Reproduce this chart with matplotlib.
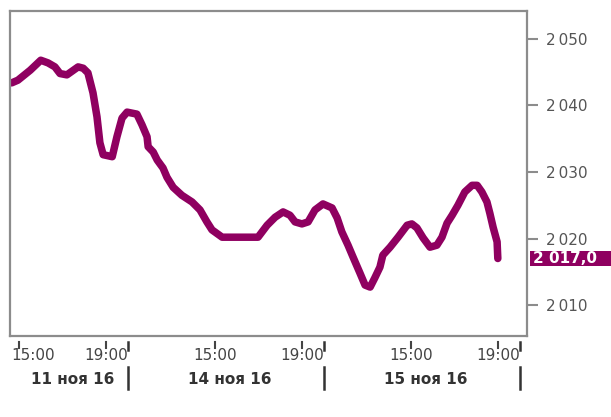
import matplotlib
matplotlib.use("Agg")
import matplotlib.pyplot as plt
import matplotlib.transforms as mtransforms
from matplotlib.patches import Rectangle
import pandas as pd

# Дни торгов и данные (время, цена)
days = ["2016-11-11", "2016-11-14", "2016-11-15"]
day_labels = ["11 ноя 16", "14 ноя 16", "15 ноя 16"]

times = [
    "2016-11-11 14:39", "2016-11-11 14:56", "2016-11-11 15:30", "2016-11-11 15:59",
    "2016-11-11 16:19", "2016-11-11 16:38", "2016-11-11 16:52", "2016-11-11 17:11",
    "2016-11-11 17:42", "2016-11-11 17:56", "2016-11-11 18:09", "2016-11-11 18:23",
    "2016-11-11 18:34", "2016-11-11 18:42", "2016-11-11 18:51", "2016-11-11 19:16",
    "2016-11-11 19:29", "2016-11-11 19:43", "2016-11-11 19:57",
    "2016-11-14 11:24", "2016-11-14 11:38", "2016-11-14 11:52", "2016-11-14 11:55",
    "2016-11-14 12:09", "2016-11-14 12:20", "2016-11-14 12:36", "2016-11-14 12:47",
    "2016-11-14 13:04", "2016-11-14 13:28", "2016-11-14 13:56", "2016-11-14 14:18",
    "2016-11-14 14:37", "2016-11-14 14:51", "2016-11-14 15:19", "2016-11-14 16:58",
    "2016-11-14 17:23", "2016-11-14 17:45", "2016-11-14 18:07", "2016-11-14 18:26",
    "2016-11-14 18:40", "2016-11-14 18:59", "2016-11-14 19:16", "2016-11-14 19:35",
    "2016-11-14 19:57",
    "2016-11-15 11:22", "2016-11-15 11:36", "2016-11-15 11:49", "2016-11-15 12:06",
    "2016-11-15 12:20", "2016-11-15 12:39", "2016-11-15 12:53", "2016-11-15 13:07",
    "2016-11-15 13:20", "2016-11-15 13:34", "2016-11-15 13:42", "2016-11-15 14:02",
    "2016-11-15 14:24", "2016-11-15 14:49", "2016-11-15 15:02", "2016-11-15 15:16",
    "2016-11-15 15:33", "2016-11-15 15:52", "2016-11-15 16:11", "2016-11-15 16:25",
    "2016-11-15 16:39", "2016-11-15 16:53", "2016-11-15 17:09", "2016-11-15 17:28",
    "2016-11-15 17:48", "2016-11-15 18:02", "2016-11-15 18:15", "2016-11-15 18:29",
    "2016-11-15 18:37", "2016-11-15 18:46", "2016-11-15 18:57", "2016-11-15 18:59",
]
prices = [
    2043.4, 2043.8, 2045.3, 2046.8, 2046.4, 2045.8, 2044.8, 2044.6,
    2045.8, 2045.6, 2044.9, 2041.9, 2038.3, 2034.4, 2032.6, 2032.3,
    2035.3, 2038.1, 2039.0,
    2038.7, 2037.1, 2035.3, 2033.8, 2033.0, 2031.8, 2030.6, 2029.2,
    2027.7, 2026.5, 2025.5, 2024.3, 2022.5, 2021.3, 2020.2, 2020.2,
    2022.0, 2023.2, 2024.0, 2023.5, 2022.5, 2022.2, 2022.5, 2024.3,
    2025.2,
    2024.6, 2023.1, 2021.0, 2019.0, 2017.2, 2014.8, 2013.0, 2012.7,
    2014.1, 2015.7, 2017.5, 2018.7, 2020.2, 2022.0, 2022.2, 2021.6,
    2020.1, 2018.7, 2019.0, 2020.2, 2022.3, 2023.5, 2025.0, 2027.0,
    2028.0, 2028.0, 2027.0, 2025.5, 2023.8, 2021.7, 2019.5, 2017.0,
]
last_label = "2 017,0"

tick_hours = [15, 19]
y_ticks = [2010, 2020, 2030, 2040, 2050]
y_tick_labels = ["2\u2009010", "2\u2009020", "2\u2009030", "2\u2009040", "2\u2009050"]

# Сжатая ось: торговая сессия 11:00-20:00, без ночей и выходных
SESSION_START = 11
SESSION_LEN = 9


def to_x(ts):
    d = days.index(ts.strftime("%Y-%m-%d"))
    return d * SESSION_LEN + ts.hour + ts.minute / 60 - SESSION_START


ts = pd.to_datetime(times)
xs = [to_x(t) for t in ts]

LINE = "#8f0060"
GREY = "#8c8c8c"

fig = plt.figure(figsize=(6.11, 4.17), dpi=100)
ax = fig.add_axes([10 / 611, 1 - 336 / 417, 516.7 / 611, 325 / 417])

ax.plot(xs, prices, color=LINE, lw=5.4, solid_capstyle="round", solid_joinstyle="round")

ax.set_xlim(3.57, 27.31)
ax.set_ylim(2005.35, 2054.2)

for s in ax.spines.values():
    s.set_color(GREY)
    s.set_linewidth(1.6)

# ось Y справа
ax.yaxis.tick_right()
ax.set_yticks(y_ticks)
ax.set_yticklabels(y_tick_labels)
ax.tick_params(axis="y", colors=GREY, length=8, width=1.5, pad=6,
               labelcolor="#555555", labelsize=11)

# ось X: подписи часов рисуем сами (первая прижата к краю)
x_ticks = []
x_labels = []
for d in range(len(days)):
    for h in tick_hours:
        x_ticks.append(d * SESSION_LEN + h - SESSION_START)
        x_labels.append(f"{h}:00")
ax.set_xticks([])

trans = mtransforms.blended_transform_factory(ax.transData, ax.transAxes)


def ay(py):
    return (336 - py) / 325


x0, x1 = ax.get_xlim()
for i, x in enumerate(x_ticks):
    ax.plot([x, x], [ay(342), ay(348)], transform=trans, color="#444444",
            lw=1.5, clip_on=False)
    if i == 0:
        ax.text(x0 + 0.08, ay(356), x_labels[i], transform=trans, ha="left",
                va="center", fontsize=11, color="#444444")
    else:
        ax.text(x, ay(356), x_labels[i], transform=trans, ha="center",
                va="center", fontsize=11, color="#444444")

for d in range(len(days)):
    sep = (d + 1) * SESSION_LEN
    ax.plot([sep, sep], [ay(342), ay(350)], transform=trans, color="#333333",
            lw=1.8, clip_on=False)
    ax.plot([sep, sep], [ay(367), ay(389)], transform=trans, color="#333333",
            lw=1.8, clip_on=False)
    lo = max(d * SESSION_LEN, x0)
    hi = min(sep, x1)
    ax.text((lo + hi) / 2 + 0.15, ay(380), day_labels[d], transform=trans,
            ha="center", va="center", fontsize=11, fontweight="bold",
            color="#333333")

# метка последнего значения
ytrans = mtransforms.blended_transform_factory(ax.transAxes, ax.transData)
box_h = 2.35
ax.add_patch(Rectangle((520 / 516.7, prices[-1] - box_h / 2), 81 / 516.7, box_h,
                       transform=ytrans, color=LINE, clip_on=False, lw=0))
ax.text(523 / 516.7, prices[-1], last_label, transform=ytrans, ha="left",
        va="center", color="white", fontsize=11, fontweight="bold")

fig.savefig("out.png", dpi=100)
